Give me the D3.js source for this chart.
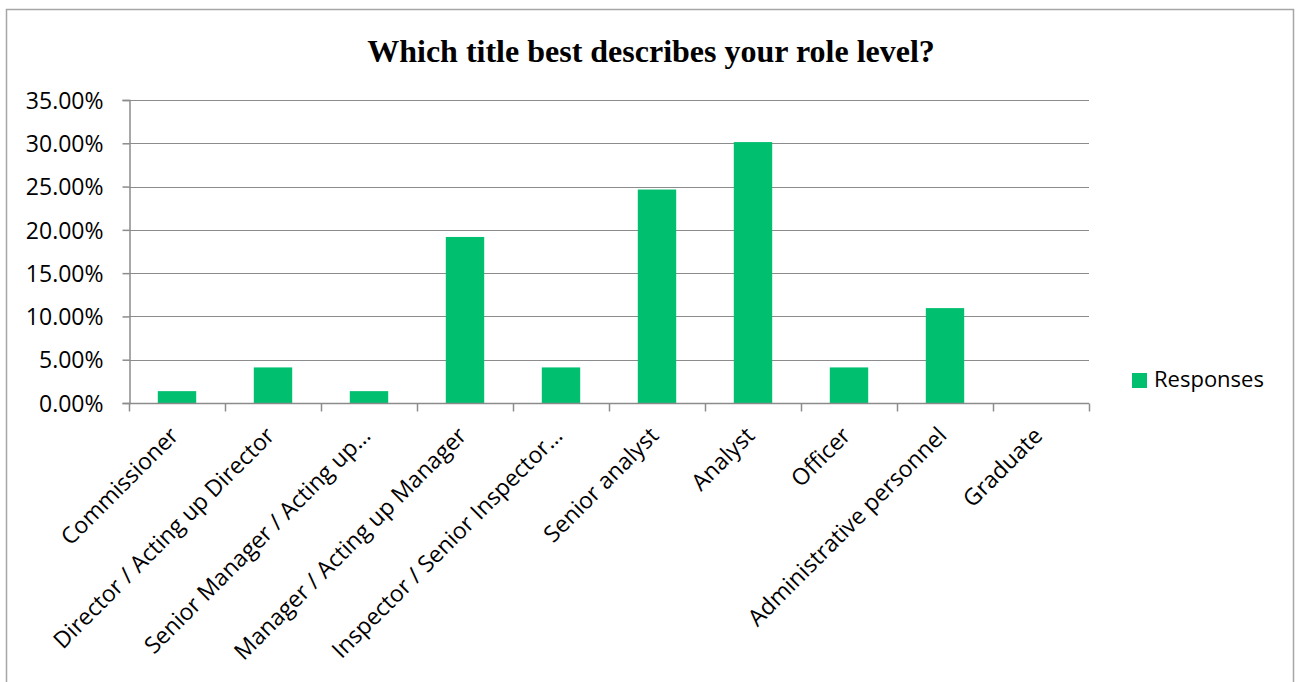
<!DOCTYPE html>
<html>
<head>
<meta charset="utf-8">
<script src="https://cdn.jsdelivr.net/npm/d3@7"></script>
<style>
  html, body { margin: 0; padding: 0; background: #fff; }
  svg { display: block; }
</style>
</head>
<body>
<svg id="chart" width="1300" height="682"></svg>
<script>
// Survey question: share of responses per role level
const categories = [
  "Commissioner",
  "Director / Acting up Director",
  "Senior Manager / Acting up…",
  "Manager / Acting up Manager",
  "Inspector / Senior Inspector…",
  "Senior analyst",
  "Analyst",
  "Officer",
  "Administrative personnel",
  "Graduate"
];
const responses = [1.37, 4.11, 1.37, 19.18, 4.11, 24.66, 30.14, 4.11, 10.96, 0];
const yTicks = [0, 5, 10, 15, 20, 25, 30, 35];
const seriesName = "Responses";
const chartTitle = "Which title best describes your role level?";

const svg = d3.select("#chart");
const plot = { left: 129, right: 1089, top: 100, bottom: 403 };
const green = "#00BF6F";
const axisGrey = "#8C8C8C";
const labelFont = "'Open Sans', 'Liberation Sans', sans-serif";
const labelSize = 23;

// Outer chart frame
svg.append("rect")
  .attr("x", 6.5).attr("y", 9.5)
  .attr("width", 1287).attr("height", 700)
  .attr("fill", "#fff")
  .attr("stroke", "#A6A6A6").attr("stroke-width", 1.5);

// Title
svg.append("text")
  .attr("x", 651).attr("y", 62)
  .attr("text-anchor", "middle")
  .attr("font-family", "'Liberation Serif', 'Times New Roman', serif")
  .attr("font-weight", "bold")
  .attr("font-size", 32)
  .attr("fill", "#000")
  .text(chartTitle);

const x = d3.scaleBand().domain(categories).range([plot.left, plot.right]).padding(0);
const y = d3.scaleLinear().domain([0, 35]).range([plot.bottom, plot.top]);

// Horizontal gridlines
svg.append("g")
  .selectAll("line")
  .data(yTicks.filter(d => d > 0))
  .join("line")
  .attr("x1", plot.left).attr("x2", plot.right)
  .attr("y1", d => Math.round(y(d)) + 0.5).attr("y2", d => Math.round(y(d)) + 0.5)
  .attr("stroke", axisGrey).attr("stroke-width", 1);

// Bars (gap width 150%: bar = band / 2.5)
const barW = x.bandwidth() / 2.5;
svg.append("g")
  .selectAll("rect")
  .data(categories.map((c, i) => ({ c, v: responses[i] })))
  .join("rect")
  .attr("x", d => x(d.c) + (x.bandwidth() - barW) / 2)
  .attr("y", d => y(d.v))
  .attr("width", barW)
  .attr("height", d => y(0) - y(d.v))
  .attr("fill", green);

// Y axis
const yAxis = svg.append("g")
  .attr("transform", `translate(${plot.left + 0.5},0)`)
  .call(d3.axisLeft(y).tickValues(yTicks).tickSize(7).tickPadding(19)
    .tickFormat(d => d3.format(".2f")(d) + "%"));
yAxis.attr("font-size", null).attr("font-family", null);
yAxis.select(".domain").attr("stroke", axisGrey).attr("stroke-width", 1.5);
yAxis.selectAll(".tick line").attr("stroke", axisGrey).attr("stroke-width", 1.5);
yAxis.selectAll(".tick text")
  .attr("font-family", labelFont).attr("font-size", labelSize).attr("fill", "#000")
  .attr("dy", "0.36em");

// X axis with category ticks at band boundaries
const xAxis = svg.append("g").attr("transform", `translate(0,${plot.bottom + 0.5})`);
xAxis.append("line")
  .attr("x1", plot.left).attr("x2", plot.right)
  .attr("stroke", axisGrey).attr("stroke-width", 1.5);
const bounds = categories.map(c => x(c)).concat([plot.right]);
xAxis.selectAll("line.tick")
  .data(bounds)
  .join("line").attr("class", "tick")
  .attr("x1", d => d + 0.5).attr("x2", d => d + 0.5)
  .attr("y1", 0).attr("y2", 8)
  .attr("stroke", axisGrey).attr("stroke-width", 1.5);

// Category labels, rotated 45°, ending near each band centre
svg.append("g")
  .selectAll("text")
  .data(categories)
  .join("text")
  .attr("transform", d => `translate(${x(d) + x.bandwidth() / 2 + 3},437) rotate(-45)`)
  .attr("text-anchor", "end")
  .attr("font-family", labelFont).attr("font-size", labelSize).attr("fill", "#000")
  .text(d => d);

// Legend
const legend = svg.append("g").attr("transform", "translate(1132,373)");
legend.append("rect").attr("width", 15).attr("height", 15).attr("fill", green);
legend.append("text")
  .attr("x", 22).attr("y", 14)
  .attr("font-family", labelFont).attr("font-size", 22).attr("fill", "#000")
  .text(seriesName);
</script>
</body>
</html>
